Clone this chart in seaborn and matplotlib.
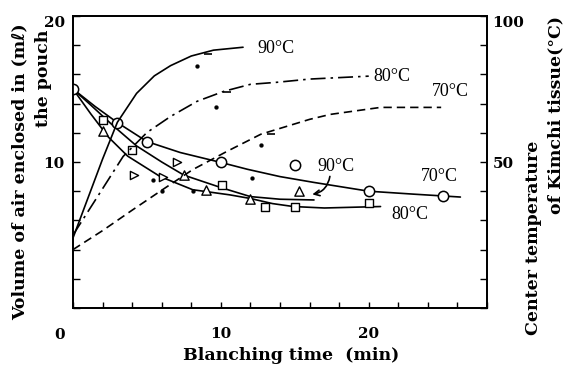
import matplotlib
matplotlib.use("Agg")
import matplotlib.pyplot as plt
import seaborn as sns

# Air enclosed in the pouch (ml), fitted curves
t_air70 = [0, 1.5, 3, 5, 7.25, 10, 11.8, 14, 16.3, 20, 23, 26.2]
air70 = [15, 13.8, 12.7, 11.4, 10.65, 9.97, 9.5, 9.0, 8.6, 8.0, 7.8, 7.6]
t_air90 = [0, 1.2, 2.7, 4.3, 6, 7.5, 10, 12, 14, 16.3]
air90 = [15, 13.9, 12.5, 11.1, 10.0, 9.1, 8.25, 7.63, 7.45, 7.4]
t_air80 = [0, 1.2, 2.4, 3.7, 5.9, 8.1, 10.6, 12, 13.5, 14.9, 17, 20.8]
air80 = [15, 13.3, 11.7, 10.4, 9.0, 8.1, 7.75, 7.5, 7.15, 6.95, 6.85, 6.95]

# measured air points
circ_t = [0, 3, 5, 10, 15, 20, 25]
circ_v = [15.0, 12.7, 11.4, 10.0, 9.8, 8.0, 7.7]
tri_t = [2.0, 7.5, 9.0, 12.0, 15.3]
tri_v = [12.1, 9.1, 8.1, 7.5, 8.0]
sq_t = [2.0, 4.0, 10.1, 13.0, 15.0, 20.0]
sq_v = [12.9, 10.85, 8.45, 6.9, 6.9, 7.2]
odd_t = [4.1, 6.1, 7.05]
odd_v = [9.1, 9.0, 10.0]
dot_t = [5.4, 8.1, 12.1]
dot_v = [8.8, 8.0, 8.9]

# Center temperature of Kimchi tissue (C)
t_tmp90 = [0, 1, 2, 3, 4.3, 5.5, 6.6, 8, 9.5, 11.5]
tmp90 = [24, 37.5, 51, 63.6, 73.5, 79.5, 83, 86.3, 88.3, 89.3]
t_tmp80 = [0, 1.83, 3.39, 5.0, 6.6, 8.4, 10.2, 12.0, 13.8, 16, 20]
tmp80 = [25, 39.5, 51.9, 60.1, 65.6, 70.8, 74.2, 76.6, 77.3, 78.4, 79.4]
t_tmp70 = [0, 2, 4, 5.9, 8.1, 10.4, 12.7, 16, 17.4, 20.8, 24.9]
tmp70 = [20, 26.5, 33.5, 40, 47.4, 53.6, 59.5, 64.6, 66.3, 68.7, 68.7]
tdot_t = [8.4, 9.7, 12.7, 6.0]
tdot_v = [82.8, 69, 55.7, 40]
tick_t = [9.1, 10.4, 13.4]
tick_v = [87, 73.9, 59.5]

x_ticks = list(range(0, 29, 2))
x_labels = ["" if v not in (10, 20) else str(v) for v in x_ticks]
air_ticks = list(range(0, 21, 2))
air_labels = ["" if v not in (10, 20) else str(v) for v in air_ticks]
tmp_ticks = list(range(0, 101, 10))
tmp_labels = ["" if v not in (50, 100) else str(v) for v in tmp_ticks]

sns.set_style("ticks")
plt.rcParams['font.family'] = ['DejaVu Serif', 'DejaVu Sans']
plt.rcParams['text.color'] = 'black'
plt.rcParams['xtick.color'] = 'black'
plt.rcParams['ytick.color'] = 'black'
plt.rcParams['axes.labelcolor'] = 'black'

fig = plt.figure(figsize=(5.66, 3.77), dpi=100)
ax = fig.add_axes([73 / 566, 1 - 308 / 377, 414 / 566, 292 / 377])
ax2 = ax.twinx()

line_kw = dict(color="black", lw=1.2, sort=False, estimator=None)
sns.lineplot(x=t_air70, y=air70, ax=ax, **line_kw)
sns.lineplot(x=t_air90, y=air90, ax=ax, **line_kw)
sns.lineplot(x=t_air80, y=air80, ax=ax, **line_kw)

sns.scatterplot(x=circ_t, y=circ_v, ax=ax, marker="o", s=55, color="white",
                edgecolor="black", linewidth=1.1, zorder=4)
sns.scatterplot(x=tri_t, y=tri_v, ax=ax, marker="^", s=45, color="white",
                edgecolor="black", linewidth=1.0, zorder=4)
sns.scatterplot(x=sq_t, y=sq_v, ax=ax, marker="s", s=35, color="white",
                edgecolor="black", linewidth=1.0, zorder=4)
sns.scatterplot(x=odd_t, y=odd_v, ax=ax, marker=">", s=35, color="white",
                edgecolor="black", linewidth=1.0, zorder=4)
sns.scatterplot(x=dot_t, y=dot_v, ax=ax, marker="o", s=8, color="black",
                edgecolor="black", zorder=4)

sns.lineplot(x=t_tmp90, y=tmp90, ax=ax2, **line_kw)
sns.lineplot(x=t_tmp80, y=tmp80, ax=ax2, linestyle=(0, (9, 3, 1.5, 3)), **line_kw)
sns.lineplot(x=t_tmp70, y=tmp70, ax=ax2, linestyle=(0, (5, 3)), **line_kw)
sns.scatterplot(x=tdot_t, y=tdot_v, ax=ax2, marker="o", s=8, color="black",
                edgecolor="black", zorder=4)
sns.scatterplot(x=tick_t, y=tick_v, ax=ax2, marker="_", s=40, color="black",
                linewidth=1.2, zorder=4)

ax.set_xlim(0, 28)
ax.set_ylim(0, 20)
ax2.set_ylim(0, 100)
ax.set_xticks(x_ticks, x_labels)
ax.set_yticks(air_ticks, air_labels)
ax2.set_yticks(tmp_ticks, tmp_labels)
ax.set_xlabel("")
ax.set_ylabel("")
ax2.set_ylabel("")

for a in (ax, ax2):
    for s in a.spines.values():
        s.set_visible(True)
        s.set_linewidth(1.3)
        s.set_color("black")
ax.tick_params(axis="x", direction="in", length=4, width=1, pad=14,
               labelsize=11, colors="black")
ax.tick_params(axis="y", direction="in", length=5, width=1, pad=6,
               labelsize=11, colors="black")
ax2.tick_params(axis="y", direction="in", length=5, width=1, pad=4,
                labelsize=11, colors="black")
for lbl in ax.get_xticklabels() + ax.get_yticklabels() + ax2.get_yticklabels():
    lbl.set_fontweight("bold")
ax.yaxis.get_major_ticks()[-1].label1.set_va("top")
ax2.yaxis.get_major_ticks()[-1].label2.set_va("top")

# shared origin label
ax.text(-0.88, -0.092, "0", transform=ax.get_xaxis_transform(), ha="center",
        va="center", fontsize=11, fontweight="bold")

lab_kw = dict(family="Liberation Serif", fontsize=13, va="center", ha="left")
ax2.text(12.5, 88.7, "90°C", **lab_kw)
ax2.text(20.3, 79.4, "80°C", **lab_kw)
ax2.text(24.3, 74.2, "70°C", **lab_kw)
ax.text(16.5, 9.7, "90°C", **lab_kw)
ax.text(23.5, 9.0, "70°C", **lab_kw)
ax.text(21.5, 6.4, "80°C", **lab_kw)
ax.annotate("", xy=(16.0, 7.75), xytext=(17.4, 9.2),
            arrowprops=dict(arrowstyle="->", lw=1.2, color="black",
                            connectionstyle="arc3,rad=-0.4"))

axl_kw = dict(fontsize=12.5, fontweight="bold", ha="center", va="center")
fig.text(291 / 566, 1 - 355 / 377, "Blanching time  (min)", **axl_kw)
fig.text(20 / 566, 1 - 172 / 377, "Volume of air enclosed in (mℓ)",
         rotation=90, **axl_kw)
fig.text(43 / 566, 1 - 78 / 377, "the pouch", rotation=90, **axl_kw)
fig.text(534 / 566, 1 - 238 / 377, "Center temperature", rotation=90, **axl_kw)
fig.text(556 / 566, 1 - 115 / 377, "of Kimchi tissue(°C)", rotation=90,
         **axl_kw)

fig.savefig("out.png", dpi=100)
